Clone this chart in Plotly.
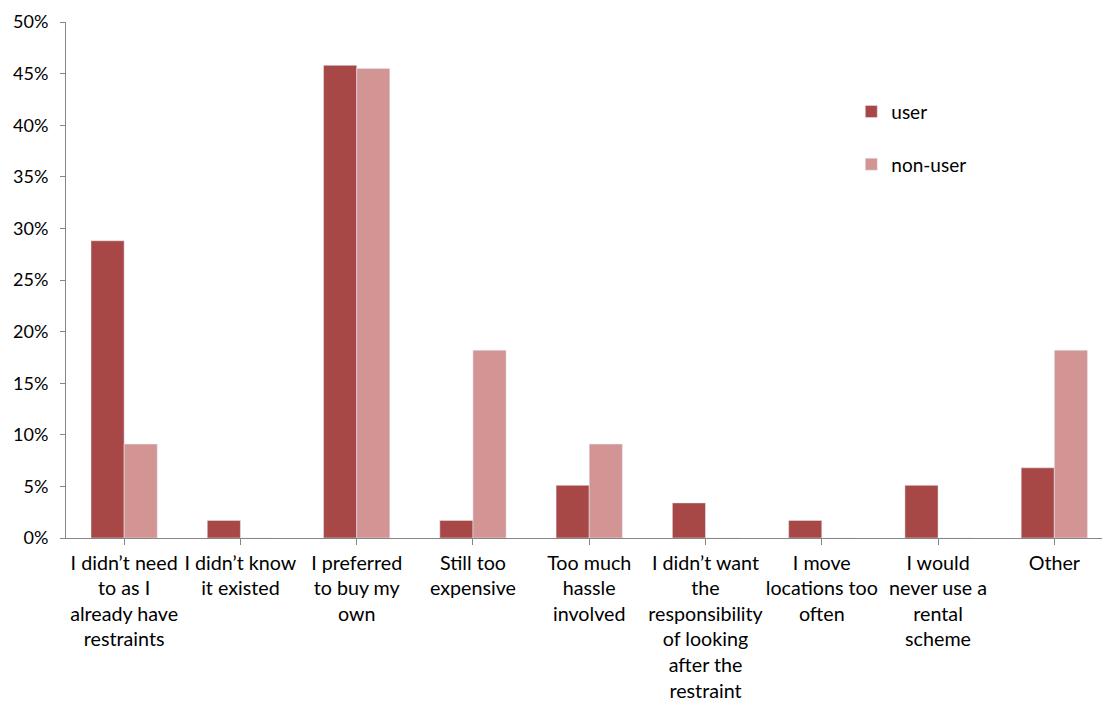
import plotly.graph_objects as go

categories = [
    "I didn’t need<br>to as I<br>already have<br>restraints",
    "I didn’t know<br>it existed",
    "I preferred<br>to buy my<br>own",
    "Still too<br>expensive",
    "Too much<br>hassle<br>involved",
    "I didn’t want<br>the<br>responsibility<br>of looking<br>after the<br>restraint",
    "I move<br>locations too<br>often",
    "I would<br>never use a<br>rental<br>scheme",
    "Other",
]
user = [0.288, 0.017, 0.458, 0.017, 0.051, 0.034, 0.017, 0.051, 0.068]
non_user = [0.091, 0.0, 0.455, 0.182, 0.091, 0.0, 0.0, 0.0, 0.182]
y_ticks = [0, 0.05, 0.10, 0.15, 0.20, 0.25, 0.30, 0.35, 0.40, 0.45, 0.50]

FONT = "Lato, Carlito, Calibri, sans-serif"
x = list(range(len(categories)))

fig = go.Figure()
fig.add_trace(go.Bar(name="user", x=x, y=user, marker_color="#A84846",
                     legendgroup="a"))
fig.add_trace(go.Bar(name="non-user", x=x, y=non_user, marker_color="#D39494",
                     legendgroup="b"))

fig.update_layout(
    width=1102, height=704,
    margin=dict(l=66, r=0, t=22, b=166),
    paper_bgcolor="white", plot_bgcolor="white",
    barmode="group", bargap=0.43, bargroupgap=0,
    font=dict(family=FONT, size=19, color="#000000"),
    showlegend=True,
    legend=dict(x=0.758, y=0.863, xanchor="left", yanchor="top",
                tracegroupgap=25, itemwidth=30,
                font=dict(family=FONT, size=19)),
    xaxis=dict(
        range=[-0.5, 8.41], automargin=False,
        tickmode="array", tickvals=x, ticktext=categories,
        tickson="boundaries", ticks="outside", ticklen=6,
        tickcolor="#868686", showline=True, linecolor="#868686", linewidth=1,
        showgrid=False, zeroline=False, tickangle=0, ticklabelstandoff=1,
        tickfont=dict(size=19.7),
    ),
    yaxis=dict(
        range=[0, 0.5], tickmode="array", tickvals=y_ticks, automargin=False,
        tickformat=".0%", ticks="outside", ticklen=5, tickcolor="#868686",
        showline=True, linecolor="#868686", linewidth=1,
        showgrid=False, zeroline=False, ticklabelstandoff=8,
        tickfont=dict(size=18),
    ),
)

fig.write_html("out.html")
